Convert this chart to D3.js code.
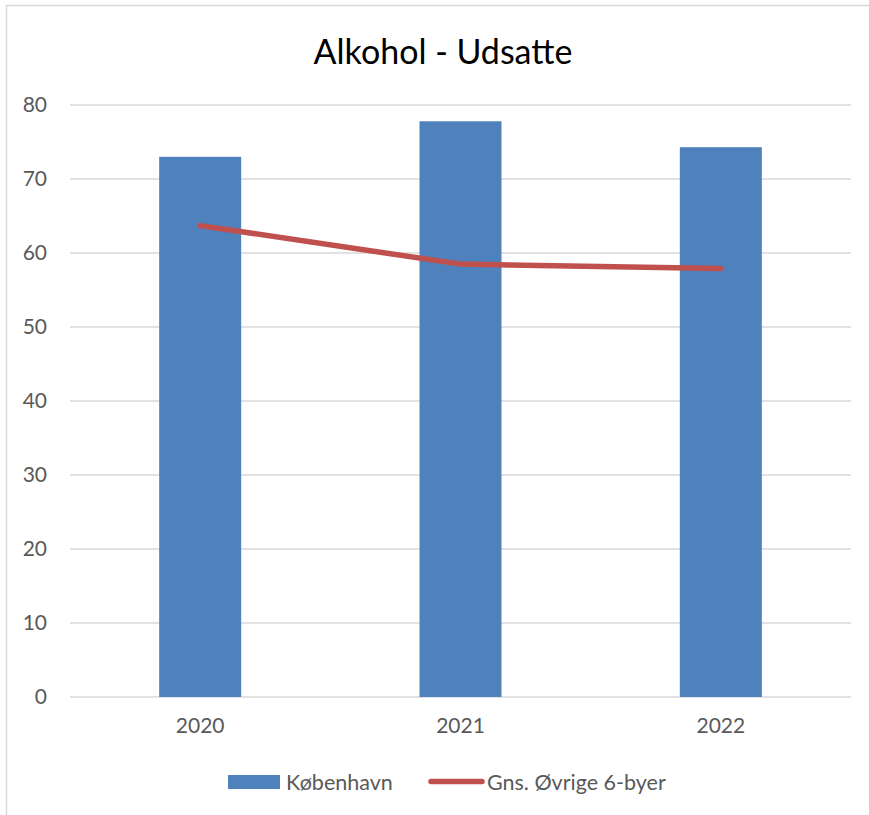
<!DOCTYPE html>
<html>
<head>
<meta charset="utf-8">
<script src="https://cdn.jsdelivr.net/npm/d3@7"></script>
<style>
  html, body { margin: 0; padding: 0; background: #fff; }
  svg text { font-family: Lato, "Open Sans", sans-serif; }
</style>
</head>
<body>
<svg id="chart" width="869" height="815"></svg>
<script>
const categories = ["2020", "2021", "2022"];
const kobenhavn = [73.0, 77.8, 74.3];
const ovrige = [63.7, 58.5, 57.9];
const yTicks = [0, 10, 20, 30, 40, 50, 60, 70, 80];
const seriesNames = ["København", "Gns. Øvrige 6-byer"];
const title = "Alkohol - Udsatte";

const svg = d3.select("#chart");
const m = { left: 70, right: 851, top: 105, bottom: 697 };

// frame
svg.append("line").attr("x1", 6).attr("x2", 869).attr("y1", 5.5).attr("y2", 5.5)
  .attr("stroke", "#d9d9d9").attr("stroke-width", 1.5);
svg.append("line").attr("x1", 6.5).attr("x2", 6.5).attr("y1", 5).attr("y2", 815)
  .attr("stroke", "#d9d9d9").attr("stroke-width", 1.5);

const x = d3.scaleBand().domain(categories).range([m.left, m.right]).padding(0);
const y = d3.scaleLinear().domain([0, 80]).range([m.bottom, m.top]);

// gridlines
svg.append("g").selectAll("line").data(yTicks).join("line")
  .attr("x1", m.left).attr("x2", m.right)
  .attr("y1", d => y(d)).attr("y2", d => y(d))
  .attr("stroke", "#d9d9d9").attr("stroke-width", 1.3);

// y axis labels
const yAxis = d3.axisLeft(y).tickValues(yTicks).tickSize(0).tickPadding(0);
const gy = svg.append("g").attr("transform", `translate(${m.left - 23},0)`).call(yAxis);
gy.select(".domain").remove();
gy.selectAll("text").attr("fill", "#595959").style("font-size", "21px")
  .style("font-family", "Lato, sans-serif");

// x axis labels
const xAxis = d3.axisBottom(x).tickSize(0).tickPadding(0);
const gx = svg.append("g").attr("transform", `translate(0,${m.bottom + 21})`).call(xAxis);
gx.select(".domain").remove();
gx.selectAll("text").attr("fill", "#595959").style("font-size", "21px")
  .style("font-family", "Lato, sans-serif");

// bars
const barW = x.bandwidth() * 0.315;
svg.append("g").selectAll("rect").data(categories).join("rect")
  .attr("x", (d) => x(d) + x.bandwidth() / 2 - barW / 2)
  .attr("y", (d, i) => y(kobenhavn[i]))
  .attr("width", barW)
  .attr("height", (d, i) => y(0) - y(kobenhavn[i]))
  .attr("fill", "#4f81bd");

// line
const line = d3.line()
  .x((d, i) => x(categories[i]) + x.bandwidth() / 2)
  .y(d => y(d));
svg.append("path").datum(ovrige).attr("d", line)
  .attr("fill", "none").attr("stroke", "#c0504d").attr("stroke-width", 5.5)
  .attr("stroke-linecap", "round").attr("stroke-linejoin", "round");

// title
svg.append("text").attr("x", 443).attr("y", 64).attr("text-anchor", "middle")
  .style("font-size", "34px").attr("fill", "#000").text(title);

// legend
const lg = svg.append("g");
lg.append("rect").attr("x", 228).attr("y", 775).attr("width", 52).attr("height", 14).attr("fill", "#4f81bd");
lg.append("text").attr("x", 286).attr("y", 790).attr("fill", "#595959").style("font-size", "21.5px").text(seriesNames[0]);
lg.append("line").attr("x1", 431).attr("x2", 482).attr("y1", 781.5).attr("y2", 781.5)
  .attr("stroke", "#c0504d").attr("stroke-width", 5.5).attr("stroke-linecap", "round");
lg.append("text").attr("x", 487).attr("y", 790).attr("fill", "#595959").style("font-size", "21.5px").text(seriesNames[1]);
</script>
</body>
</html>
